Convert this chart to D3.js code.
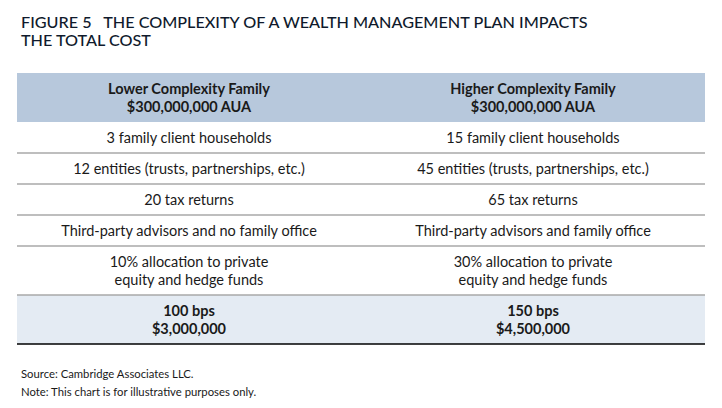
<!DOCTYPE html>
<html>
<head>
<meta charset="utf-8">
<script src="https://cdn.jsdelivr.net/npm/d3@7"></script>
<style>
  body { margin: 0; background: #fff; }
  svg { display: block; }
</style>
</head>
<body>
<svg width="722" height="408"></svg>
<script>
// Table content
var titleLines = ['FIGURE 5\u2002 THE COMPLEXITY OF A WEALTH MANAGEMENT PLAN IMPACTS', 'THE TOTAL COST'];
var columns = ['Lower Complexity Family|$300,000,000 AUA', 'Higher Complexity Family|$300,000,000 AUA'];
var lowerValues = [
    '3 family client households',
    '12 entities (trusts, partnerships, etc.)',
    '20 tax returns',
    'Third-party advisors and no family office',
    '10% allocation to private|equity and hedge funds'
];
var higherValues = [
    '15 family client households',
    '45 entities (trusts, partnerships, etc.)',
    '65 tax returns',
    'Third-party advisors and family office',
    '30% allocation to private|equity and hedge funds'
];
var totals = ['100 bps|$3,000,000', '150 bps|$4,500,000'];
var notes = ['Source: Cambridge Associates LLC.', 'Note: This chart is for illustrative purposes only.'];

var svg = d3.select('svg');
var padding = {t: 73, l: 17, r: 17};
var tableWidth = +svg.attr('width') - padding.l - padding.r;

var lineH = 18, rowPad = 13;
var bodyFont = 'Lato, "Open Sans", sans-serif';

// build row list: header, body rows, total row
var rows = [];
rows.push({kind: 'header', cells: columns});
lowerValues.forEach(function(d, i) {
    rows.push({kind: 'body', cells: [d, higherValues[i]]});
});
rows.push({kind: 'total', cells: totals});

// cumulative row offsets
var offset = 0;
rows.forEach(function(r) {
    r.lines = d3.max(r.cells, function(c) { return c.split('|').length; });
    r.y0 = offset;
    offset += rowPad + lineH * r.lines;
    r.y1 = offset;
});
var tableHeight = offset;

var x = d3.scaleBand().domain([0, 1]).range([0, tableWidth]);
var y = d3.scaleLinear().domain([0, tableHeight]).range([0, tableHeight]);

// title
svg.append('g').selectAll('text')
    .data(titleLines)
    .enter().append('text')
    .attr('x', 21)
    .attr('y', function(d, i) { return 28 + i * 17.5; })
    .style('font-family', 'Lato, sans-serif')
    .style('font-size', '16.2px')
    .style('font-weight', 500)
    .style('fill', '#0f1a2c')
    .text(function(d) { return d; });

var tableG = svg.append('g')
    .attr('transform', 'translate(' + [padding.l, padding.t] + ')');

var rowG = tableG.selectAll('.row')
    .data(rows)
    .enter().append('g')
    .attr('class', 'row')
    .attr('transform', function(d) { return 'translate(0,' + y(d.y0) + ')'; });

rowG.append('rect')
    .attr('width', tableWidth)
    .attr('height', function(d) { return y(d.y1) - y(d.y0); })
    .style('fill', function(d) {
        return d.kind === 'header' ? '#b7c8dc' : d.kind === 'total' ? '#e4ebf3' : '#ffffff';
    });

// separator lines above body rows (not directly under header)
rowG.filter(function(d, i) { return i > 1; })
    .append('line')
    .attr('x2', tableWidth)
    .style('stroke', '#a8a8a8')
    .style('stroke-width', 1.3);

// cells
var cellG = rowG.selectAll('.cell')
    .data(function(r) {
        return r.cells.map(function(c, i) { return {text: c, col: i, row: r}; });
    })
    .enter().append('text')
    .attr('class', 'cell')
    .attr('text-anchor', 'middle')
    .style('font-family', bodyFont)
    .style('font-size', '14.5px')
    .style('font-weight', function(d) { return d.row.kind === 'body' ? 400 : 700; })
    .style('fill', '#1a1a1a');

cellG.each(function(d) {
    var parts = d.text.split('|');
    var h = y(d.row.y1) - y(d.row.y0);
    var firstBase = h / 2 - (parts.length - 1) * lineH / 2 + 5;
    d3.select(this).selectAll('tspan')
        .data(parts)
        .enter().append('tspan')
        .attr('x', x(d.col) + x.bandwidth() / 2)
        .attr('y', function(p, i) { return firstBase + i * lineH; })
        .text(function(p) { return p; });
});

// bottom rule
tableG.append('line')
    .attr('y1', y(tableHeight))
    .attr('y2', y(tableHeight))
    .attr('x2', tableWidth)
    .style('stroke', '#000')
    .style('stroke-width', 1.5);

// footnotes
svg.append('g').selectAll('text')
    .data(notes)
    .enter().append('text')
    .attr('x', 21)
    .attr('y', function(d, i) { return 378 + i * 18; })
    .style('font-family', bodyFont)
    .style('font-size', '11.3px')
    .style('fill', '#1a1a1a')
    .text(function(d) { return d; });
</script>
</body>
</html>
